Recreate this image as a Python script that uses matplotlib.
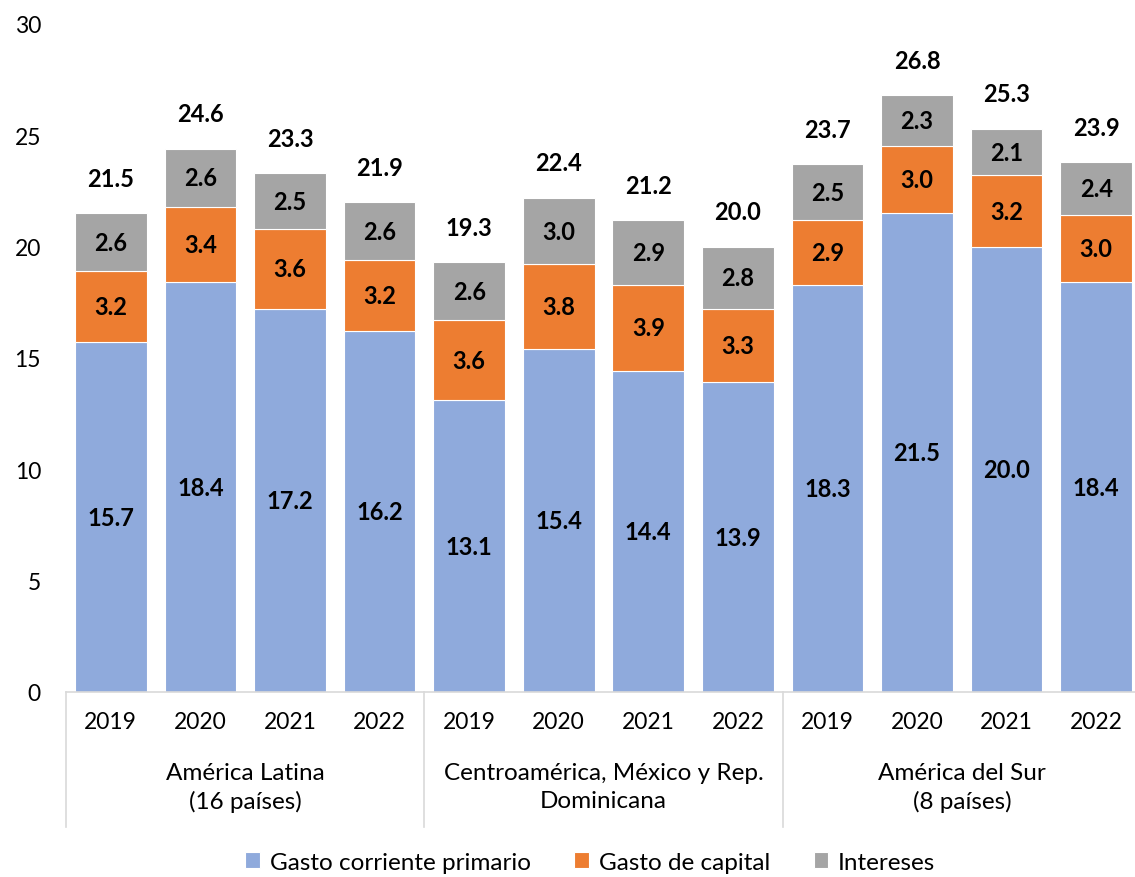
import matplotlib.pyplot as plt
import numpy as np

plt.rcParams['font.family'] = ['Lato', 'DejaVu Sans']

years = ['2019', '2020', '2021', '2022'] * 3
groups = ['América Latina\n(16 países)',
          'Centroamérica, México y Rep.\nDominicana',
          'América del Sur\n(8 países)']

primario = [15.7, 18.4, 17.2, 16.2, 13.1, 15.4, 14.4, 13.9, 18.3, 21.5, 20.0, 18.4]
capital = [3.2, 3.4, 3.6, 3.2, 3.6, 3.8, 3.9, 3.3, 2.9, 3.0, 3.2, 3.0]
intereses = [2.6, 2.6, 2.5, 2.6, 2.6, 3.0, 2.9, 2.8, 2.5, 2.3, 2.1, 2.4]
totales = [21.5, 24.6, 23.3, 21.9, 19.3, 22.4, 21.2, 20.0, 23.7, 26.8, 25.3, 23.9]

c_prim = '#8FAADC'
c_cap = '#ED7D31'
c_int = '#A5A5A5'

fig = plt.figure(figsize=(11.35, 8.78), dpi=100)
ax = fig.add_axes([66 / 1135, 185 / 878, 1075 / 1135, 668 / 878])

x = np.arange(len(years))
prim = np.array(primario)
cap = np.array(capital)
inte = np.array(intereses)

b1 = ax.bar(x, prim, 0.8, color=c_prim, edgecolor='white', linewidth=0.8, label='Gasto corriente primario')
b2 = ax.bar(x, cap, 0.8, bottom=prim, color=c_cap, edgecolor='white', linewidth=0.8, label='Gasto de capital')
b3 = ax.bar(x, inte, 0.8, bottom=prim + cap, color=c_int, edgecolor='white', linewidth=0.8, label='Intereses')

lab = dict(ha='center', va='center', fontsize=17, fontweight='bold', color='black')
for i in x:
    ax.text(i, prim[i] / 2, f'{prim[i]:.1f}', **lab)
    ax.text(i, prim[i] + cap[i] / 2, f'{cap[i]:.1f}', **lab)
    ax.text(i, prim[i] + cap[i] + inte[i] / 2, f'{inte[i]:.1f}', **lab)
    ax.annotate(f'{totales[i]:.1f}', (i, prim[i] + cap[i] + inte[i]),
                xytext=(0, 25), textcoords='offset points', **lab)

ax.set_xlim(-0.5, 11.5)
ax.set_ylim(0, 30)
ax.set_yticks(np.arange(0, 31, 5))
ax.set_xticks(x)
ax.set_xticklabels(years)
ax.tick_params(axis='both', length=0, labelsize=16.5)
ax.tick_params(axis='y', pad=18)
ax.tick_params(axis='x', pad=14)

for s in ['top', 'right', 'left']:
    ax.spines[s].set_visible(False)
ax.spines['bottom'].set_color('#D9D9D9')
ax.spines['bottom'].set_linewidth(1.2)

trans = ax.get_xaxis_transform()
for sep in [-0.5, 3.5, 7.5]:
    ax.plot([sep, sep], [0, -0.202], color='#D9D9D9', lw=1.2, transform=trans, clip_on=False)

for g, name in enumerate(groups):
    ax.text(g * 4 + 1.5, -0.105, name, transform=trans, ha='center', va='top',
            fontsize=17.5, linespacing=1.4)

fig.legend(handles=[b1, b2, b3], loc='lower center', ncol=3, frameon=False,
           fontsize=17.5, handlelength=0.6, handleheight=0.6, handletextpad=0.4,
           columnspacing=1.8, bbox_to_anchor=(0.52, -0.02))

fig.savefig('out.png', dpi=100)
